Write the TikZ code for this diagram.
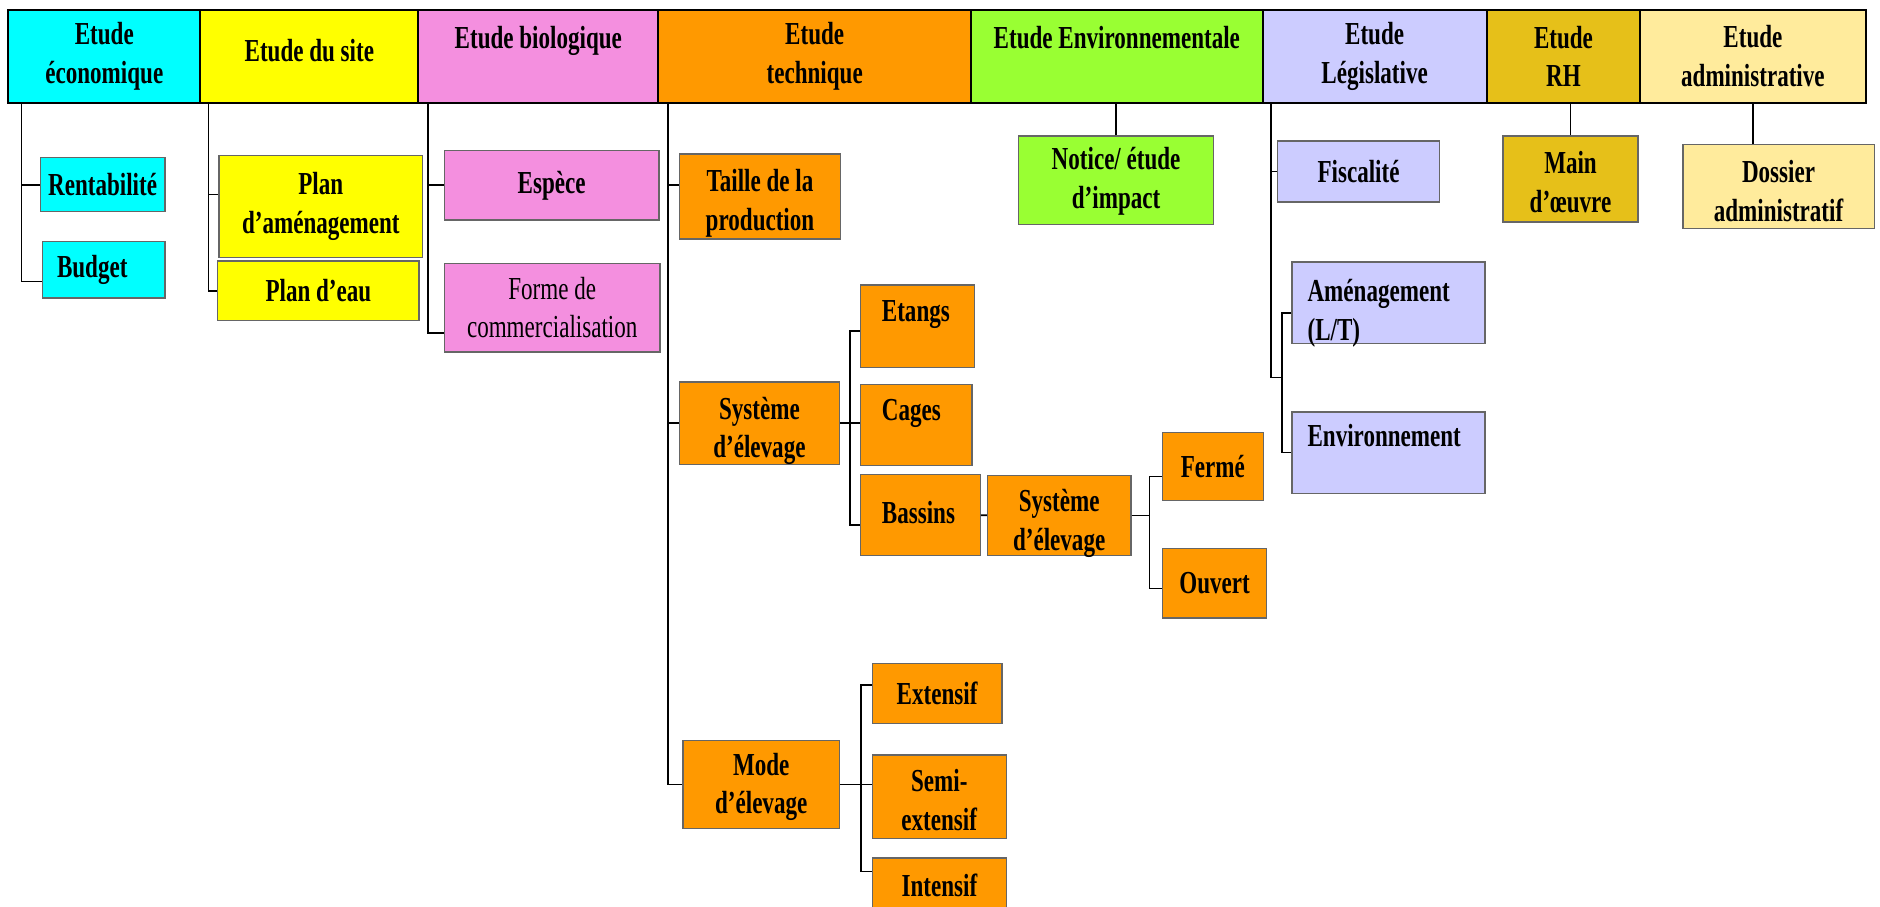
\documentclass[tikz,border=0pt]{standalone}
\usepackage{fontspec}
\setmainfont{Liberation Serif}[FakeStretch=0.72]
\usetikzlibrary{positioning,calc}

\definecolor{ecocyan}{HTML}{00FFFF}
\definecolor{siteyellow}{HTML}{FFFF00}
\definecolor{biopink}{HTML}{F48FDF}
\definecolor{techorange}{HTML}{FF9900}
\definecolor{envgreen}{HTML}{99FF33}
\definecolor{legislav}{HTML}{CCCCFF}
\definecolor{rhgold}{HTML}{E6C019}
\definecolor{admincream}{HTML}{FFEB9C}
\def\px{0.025cm}

\begin{document}
\begin{tikzpicture}[x=0.025cm,y=-0.025cm,
	every node/.style={font=\bfseries\fontsize{19}{23}\selectfont, align=flush center, inner sep=2pt},
	head/.style={draw=black, line width=1.2pt, outer sep=0pt, minimum height=78*\px},
	sub/.style={draw=black!60, line width=0.8pt, anchor=north west},
	link/.style={draw=black, line width=1pt}]
		\useasboundingbox (0,0) rectangle (1568,756);
		\clip (0,0) rectangle (1568,756);
		
		\node[head,fill=ecocyan,minimum width=160*\px] (eco) at (87,47) {Etude\\économique};
		\node[head,fill=siteyellow,minimum width=182*\px,text depth=7pt,right=0pt of eco] (site) {Etude du site};
		\node[head,fill=biopink,minimum width=200*\px,right=0pt of site] (bio) {Etude biologique\\\mbox{}};
		\node[head,fill=techorange,minimum width=261*\px,right=0pt of bio] (tech) {Etude\\technique};
		\node[head,fill=envgreen,minimum width=243*\px,right=0pt of tech] (env) {Etude Environnementale\\\mbox{}};
		\node[head,fill=legislav,minimum width=187*\px,right=0pt of env] (legis) {Etude\\Législative};
		\node[head,fill=rhgold,minimum width=128*\px,right=0pt of legis] (rh) {Etude\\RH};
		\node[head,fill=admincream,minimum width=188*\px,right=0pt of rh] (admin) {Etude\\administrative};
		
		\node[sub,fill=ecocyan,minimum width=104*\px,minimum height=45*\px] (rent) at (33,131) {Rentabilité};
		\node[sub,fill=ecocyan,minimum width=102*\px,minimum height=47*\px,text width=78*\px,align=flush left] (budget) at (35,201) {Budget};
		
		\node[sub,fill=siteyellow,minimum width=170*\px,minimum height=85*\px] (planam) at (182,129) {Plan\\d’aménagement};
		\node[sub,fill=siteyellow,minimum width=168*\px,minimum height=50*\px] (planeau) at (181,217) {Plan d’eau};
		
		\node[sub,fill=biopink,minimum width=179*\px,minimum height=58*\px] (espece) at (370,125) {Espèce};
		\node[sub,fill=biopink,minimum width=180*\px,minimum height=74*\px,font=\fontsize{19}{23}\selectfont] (forme) at (370,219) {Forme de\\commercialisation};
		
		\node[sub,fill=techorange,text width=129*\px,text height=20pt,text depth=26.3pt] (taille) at (566,128) {Taille de la\\production};
		\node[sub,fill=techorange,text width=128*\px,text height=20pt,text depth=24.9pt] (syst) at (566,318) {Système\\d’élevage};
		\node[sub,fill=techorange,text width=125*\px,text height=18.6pt,text depth=29.8pt] (mode) at (569,617) {Mode\\d’élevage};
		\node[sub,fill=techorange,minimum width=95*\px,text width=59*\px,align=flush left,text height=20pt,text depth=25pt] (etangs) at (717,237) {Etangs};
		\node[sub,fill=techorange,minimum width=93*\px,text width=57*\px,align=flush left,text height=19.3pt,text depth=24.9pt] (cages) at (717,320) {Cages};
		\node[sub,fill=techorange,minimum width=100*\px,text width=64*\px,align=flush left,text height=27pt,text depth=17.2pt] (bassins) at (717,395) {Bassins};
		\node[sub,fill=techorange,text width=114*\px,text height=19.3pt,text depth=24.2pt] (systb) at (823,396) {Système\\d’élevage};
		\node[sub,fill=techorange,minimum width=84*\px,minimum height=57*\px] (ferme) at (969,360) {Fermé};
		\node[sub,fill=techorange,minimum width=87*\px,minimum height=58*\px] (ouvert) at (969,457) {Ouvert};
		\node[sub,fill=techorange,minimum width=108*\px,minimum height=50*\px] (extensif) at (727,553) {Extensif};
		\node[sub,fill=techorange,text width=106*\px,text height=20pt,text depth=25.6pt] (semi) at (727,629) {Semi-\\extensif};
		\node[sub,fill=techorange,minimum width=112*\px,text height=20.7pt,text depth=30pt] (intensif) at (727,715) {Intensif};
		
		\node[sub,fill=envgreen,text width=157*\px,text height=17.8pt,text depth=30.6pt] (notice) at (849,113) {Notice/ étude\\d’impact};
		
		\node[sub,fill=legislav,minimum width=135*\px,minimum height=51*\px] (fiscal) at (1065,117) {Fiscalité};
		\node[sub,fill=legislav,minimum width=161*\px,text width=135*\px,align=flush left,text height=21.4pt,text depth=22.8pt] (amenag) at (1077,218) {Aménagement\\(L/T)};
		\node[sub,fill=legislav,minimum width=161*\px,text width=135*\px,align=flush left,text height=18.6pt,text depth=25.6pt] (environ) at (1077,343) {Environnement};
		
		\node[sub,fill=rhgold,text width=107*\px,text height=20pt,text depth=27pt] (main) at (1253,113) {Main\\d’œuvre};
		\node[sub,fill=admincream,text width=154*\px,text height=20.7pt,text depth=24.9pt] (dossier) at (1403,120) {Dossier\\administratif};
		
		\coordinate (ecotrunk) at ([xshift=11*\px]eco.south west);
		\coordinate (sitetrunk) at ([xshift=7*\px]site.south west);
		\coordinate (biotrunk) at ([xshift=8*\px]bio.south west);
		\coordinate (techtrunk) at ([xshift=8*\px]tech.south west);
		\coordinate (legtrunk) at ([xshift=7*\px]legis.south west);
		
		\draw[link] (ecotrunk) |- (rent.west) (ecotrunk) |- ([yshift=-7pt]budget.west);
		\draw[link] (sitetrunk) |- ([yshift=7pt]planam.west) (sitetrunk) |- (planeau.west);
		\draw[link] (biotrunk) |- (espece.west) (biotrunk) |- ([yshift=-15pt]forme.west);
		\draw[link] (techtrunk) |- ([yshift=7pt]taille.west) (techtrunk) |- (syst.west) (techtrunk) |- (mode.west);
		
		\coordinate (fork1) at ($(syst.east)!0.5!(cages.west)$);
		\draw[link] (syst.east) -- (syst.east -| cages.west);
		\draw[link] ([yshift=-3pt]etangs.west) -| (fork1) |- ([yshift=-6pt]bassins.west);
		\draw[link] (bassins) -- (systb);
		\coordinate (fork2) at ([xshift=15*\px]systb.east);
		\draw[link] (systb.east) -- (fork2);
		\draw[link] ([yshift=-6pt]ferme.west) -| (fork2) |- ([yshift=-3pt]ouvert.west);
		\coordinate (fork3) at ($(mode.east)!0.67!(mode.east -| semi.west)$);
		\draw[link] (mode.east) -- (mode.east -| semi.west);
		\draw[link] ([yshift=5pt]extensif.west) -| (fork3) |- ([yshift=-8.5pt]intensif.north west);
		
		\draw[link] (notice.north) -- (notice.north |- env.south);
		
		\coordinate (legfork) at ($(amenag.west)!0.5!(environ.west)+(-8,0)$);
		\draw[link] (legtrunk) |- (legfork);
		\draw[link] (legtrunk |- fiscal.west) -- (fiscal.west);
		\draw[link] ([yshift=-6pt]amenag.west) -| (legfork) |- (environ.west);
		
		\draw[link] (main.north) -- (main.north |- rh.south);
		\draw[link] (admin.south) -- (admin.south |- dossier.north);
\end{tikzpicture}
\end{document}
